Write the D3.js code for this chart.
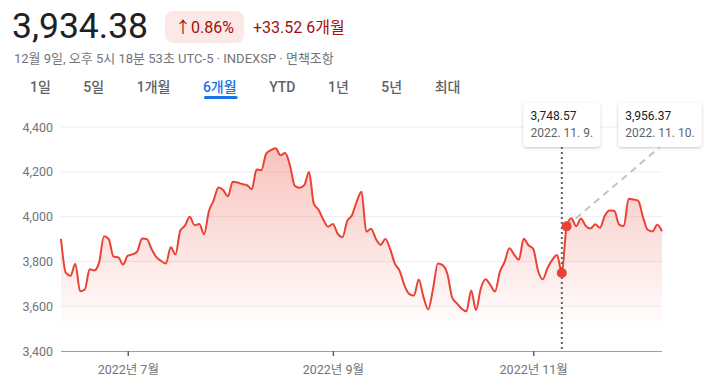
<!DOCTYPE html>
<html>
<head>
<meta charset="utf-8">
<script src="https://cdn.jsdelivr.net/npm/d3@7"></script>
<style>
  body { margin: 0; background: #fff; }
  svg { display: block; font-family: Roboto, "Noto Sans CJK KR", sans-serif; }
</style>
</head>
<body>
<svg id="chart" width="709" height="388"></svg>
<script>
// trading days (2022) and S&P 500 closes
var year = 2022;
var days = [
  "06-10","06-13","06-14","06-15","06-16","06-17","06-21","06-22","06-23","06-24","06-27","06-28","06-29","06-30",
  "07-01","07-05","07-06","07-07","07-08","07-11","07-12","07-13","07-14","07-15","07-18","07-19","07-20","07-21","07-22","07-25","07-26","07-27","07-28","07-29",
  "08-01","08-02","08-03","08-04","08-05","08-08","08-09","08-10","08-11","08-12","08-15","08-16","08-17","08-18","08-19","08-22","08-23","08-24","08-25","08-26","08-29","08-30","08-31",
  "09-01","09-02","09-06","09-07","09-08","09-09","09-12","09-13","09-14","09-15","09-16","09-19","09-20","09-21","09-22","09-23","09-26","09-27","09-28","09-29","09-30",
  "10-03","10-04","10-05","10-06","10-07","10-10","10-11","10-12","10-13","10-14","10-17","10-18","10-19","10-20","10-21","10-24","10-25","10-26","10-27","10-28","10-31",
  "11-01","11-02","11-03","11-04","11-07","11-08","11-09","11-10","11-11","11-14","11-15","11-16","11-17","11-18","11-21","11-22","11-23","11-25","11-28","11-29","11-30",
  "12-01","12-02","12-05","12-06","12-07","12-08","12-09"
];
var closes = [
  3900.86, 3749.63, 3735.48, 3789.99, 3666.77, 3674.84, 3764.79, 3759.89, 3795.73, 3911.74, 3900.11, 3821.55, 3818.83, 3785.38,
  3825.33, 3831.39, 3845.08, 3902.62, 3899.38, 3854.43, 3818.80, 3801.78, 3790.38, 3863.16, 3830.85, 3936.69, 3959.90, 3998.95, 3961.63, 3966.84, 3921.05, 4023.61, 4072.43, 4130.29,
  4118.63, 4091.19, 4155.17, 4151.94, 4145.19, 4140.06, 4122.47, 4210.24, 4207.27, 4280.15, 4297.14, 4305.20, 4274.04, 4283.74, 4228.48, 4137.99, 4128.73, 4140.77, 4199.12, 4057.66, 4030.61, 3986.16, 3955.00,
  3966.85, 3924.26, 3908.19, 3979.87, 4006.18, 4067.36, 4110.41, 3932.69, 3946.01, 3901.35, 3873.33, 3899.89, 3855.93, 3789.93, 3757.99, 3693.23, 3655.04, 3647.29, 3719.04, 3640.47, 3585.62,
  3678.43, 3790.93, 3783.28, 3744.52, 3639.66, 3612.39, 3588.84, 3577.03, 3669.91, 3583.07, 3677.95, 3719.98, 3695.16, 3665.78, 3752.75, 3797.34, 3859.11, 3830.60, 3807.30, 3901.06, 3871.98,
  3856.10, 3759.69, 3719.89, 3770.55, 3806.80, 3828.11, 3748.57, 3956.37, 3992.93, 3957.25, 3991.73, 3958.79, 3946.56, 3965.34, 3949.94, 4003.58, 4027.26, 4026.12, 3963.94, 3957.63, 4080.11,
  4076.57, 4071.70, 3998.84, 3941.26, 3933.92, 3963.51, 3934.38
];
var yTicks = [3400, 3600, 3800, 4000, 4200, 4400];
var tickMonths = ["07", "09", "11"];
var ranges = ["1일", "5일", "1개월", "6개월", "YTD", "1년", "5년", "최대"];
var activeRange = "6개월";
var hoverDays = ["11-09", "11-10"];
var subtitle = "12월 9일, 오후 5시 18분 53초 UTC-5 · INDEXSP · 면책조항";

var svg = d3.select("#chart");
var fmt = d3.format(",.2f");
var red = "#ea4335";

// ---- header ----
var last = closes[closes.length - 1], first = closes[0];
var change = last - first;
var pct = change / first * 100;

svg.append("text").attr("x", 12).attr("y", 38)
  .style("font-size", "35.5px").style("fill", "#202124")
  .text(fmt(last));

svg.append("rect").attr("x", 165).attr("y", 11).attr("width", 79).attr("height", 32)
  .attr("rx", 8).style("fill", "#fce8e6");
svg.append("text").attr("x", 175).attr("y", 33)
  .style("font-size", "16px").style("fill", "#a50e0e")
  .text("↑" + pct.toFixed(2) + "%");
svg.append("text").attr("x", 253).attr("y", 33)
  .style("font-size", "16px").style("fill", "#a50e0e")
  .text("+" + change.toFixed(2) + " " + activeRange);

svg.append("text").attr("x", 14).attr("y", 63)
  .style("font-size", "13px").style("fill", "#70757a")
  .text(subtitle);

var tx = 30;
ranges.forEach(function (r) {
  var t = svg.append("text").attr("x", tx).attr("y", 92)
    .style("font-size", "14px").style("font-weight", 500)
    .style("fill", r === activeRange ? "#1a73e8" : "#5f6368")
    .text(r);
  var w = t.node().getComputedTextLength();
  if (r === activeRange) {
    svg.append("rect").attr("x", tx + 1).attr("y", 96).attr("width", w).attr("height", 3)
      .attr("rx", 1.5).style("fill", "#1a73e8");
  }
  tx += w + 32.5;
});

// ---- chart ----
var x = d3.scaleLinear().domain([0, closes.length - 1]).range([61, 662]);
var y = d3.scaleLinear().domain([3400, 4400]).range([351, 127]);

var defs = svg.append("defs");
var grad = defs.append("linearGradient").attr("id", "fillGrad")
  .attr("gradientUnits", "userSpaceOnUse")
  .attr("x1", 0).attr("x2", 0)
  .attr("y1", y(d3.max(closes))).attr("y2", y(3400));
grad.append("stop").attr("offset", "0%").attr("stop-color", red).attr("stop-opacity", 0.32);
grad.append("stop").attr("offset", "90%").attr("stop-color", red).attr("stop-opacity", 0.0);

var shadow = defs.append("filter").attr("id", "shadow")
  .attr("x", "-20%").attr("y", "-20%").attr("width", "140%").attr("height", "160%");
shadow.append("feDropShadow").attr("dx", 0).attr("dy", 1).attr("stdDeviation", 1.5)
  .attr("flood-color", "#3c4043").attr("flood-opacity", 0.3);

// gridlines
svg.append("g").selectAll("line")
  .data(yTicks.slice(1))
  .join("line")
  .attr("x1", x.range()[0]).attr("x2", x.range()[1])
  .attr("y1", function (d) { return y(d); }).attr("y2", function (d) { return y(d); })
  .style("stroke", "#eeeeee").style("stroke-width", 1);

// y axis labels
var yAxis = svg.append("g").attr("transform", "translate(53,0)")
  .call(d3.axisLeft(y).tickValues(yTicks).tickFormat(d3.format(",")).tickSize(0).tickPadding(0));
yAxis.select(".domain").remove();
yAxis.selectAll("text")
  .style("font-size", "12.5px").style("fill", "#70757a").style("font-family", "Roboto, sans-serif");

// area + line
var area = d3.area()
  .x(function (d, i) { return x(i); })
  .y0(y(3400))
  .y1(function (d) { return y(d); })
  .curve(d3.curveMonotoneX);
var line = d3.line()
  .x(function (d, i) { return x(i); })
  .y(function (d) { return y(d); })
  .curve(d3.curveMonotoneX);

svg.append("path").datum(closes).attr("d", area).style("fill", "url(#fillGrad)");
svg.append("path").datum(closes).attr("d", line)
  .style("fill", "none").style("stroke", red).style("stroke-width", 2).style("stroke-linejoin", "round");

// x axis
var tickIdx = tickMonths.map(function (m) {
  return days.findIndex(function (d) { return d.slice(0, 2) === m; });
});
var xAxis = svg.append("g").attr("transform", "translate(0," + y(3400) + ")")
  .call(d3.axisBottom(x).tickValues(tickIdx).tickSize(5).tickPadding(9)
    .tickFormat(function (i) { return year + "년 " + (+days[i].slice(0, 2)) + "월"; }));
xAxis.select(".domain").attr("d", "M" + x.range()[0] + ",0.5H" + x.range()[1])
  .style("stroke", "#9aa0a6");
xAxis.selectAll(".tick line").style("stroke", "#5f6368").style("stroke-width", 1.5);
xAxis.selectAll("text").style("font-size", "12.5px").style("fill", "#70757a")
  .style("font-family", "Roboto, 'Noto Sans CJK KR', sans-serif");

// ---- hover points & tooltips ----
var hi = hoverDays.map(function (d) { return days.indexOf(d); });
var boxTop = 103, boxH = 44;
var boxes = [];
var bx = null;
hi.forEach(function (i, k) {
  var g = svg.append("g");
  var r = g.append("rect").attr("y", boxTop).attr("height", boxH).attr("rx", 4)
    .style("fill", "#fff").attr("filter", "url(#shadow)");
  var parts = days[i].split("-");
  var t1 = g.append("text").attr("y", boxTop + 17)
    .style("font-size", "12px").style("fill", "#202124")
    .text(fmt(closes[i]));
  var t2 = g.append("text").attr("y", boxTop + 34)
    .style("font-size", "12px").style("fill", "#5f6368")
    .text(year + ". " + (+parts[0]) + ". " + (+parts[1]) + ".");
  var w = Math.max(t1.node().getComputedTextLength(), t2.node().getComputedTextLength()) + 14;
  var left = k === 0 ? x(i) - w / 2 : bx + 18;
  r.attr("x", left).attr("width", w);
  t1.attr("x", left + 7);
  t2.attr("x", left + 7);
  bx = left + w;
  boxes.push({ cx: left + w / 2 });
});

// dotted vertical line at first point
svg.append("line")
  .attr("x1", x(hi[0])).attr("x2", x(hi[0]))
  .attr("y1", boxTop + boxH).attr("y2", y(3400))
  .style("stroke", "#5f6368").style("stroke-width", 2).style("stroke-dasharray", "2,3");

// dashed connector to second tooltip
svg.append("line")
  .attr("x1", x(hi[1])).attr("y1", y(closes[hi[1]]))
  .attr("x2", boxes[1].cx).attr("y2", boxTop + boxH)
  .style("stroke", "#c4c4c4").style("stroke-width", 2).style("stroke-dasharray", "7,5");

svg.append("g").selectAll("circle")
  .data(hi)
  .join("circle")
  .attr("cx", function (i) { return x(i); })
  .attr("cy", function (i) { return y(closes[i]); })
  .attr("r", 5)
  .style("fill", red);
</script>
</body>
</html>
